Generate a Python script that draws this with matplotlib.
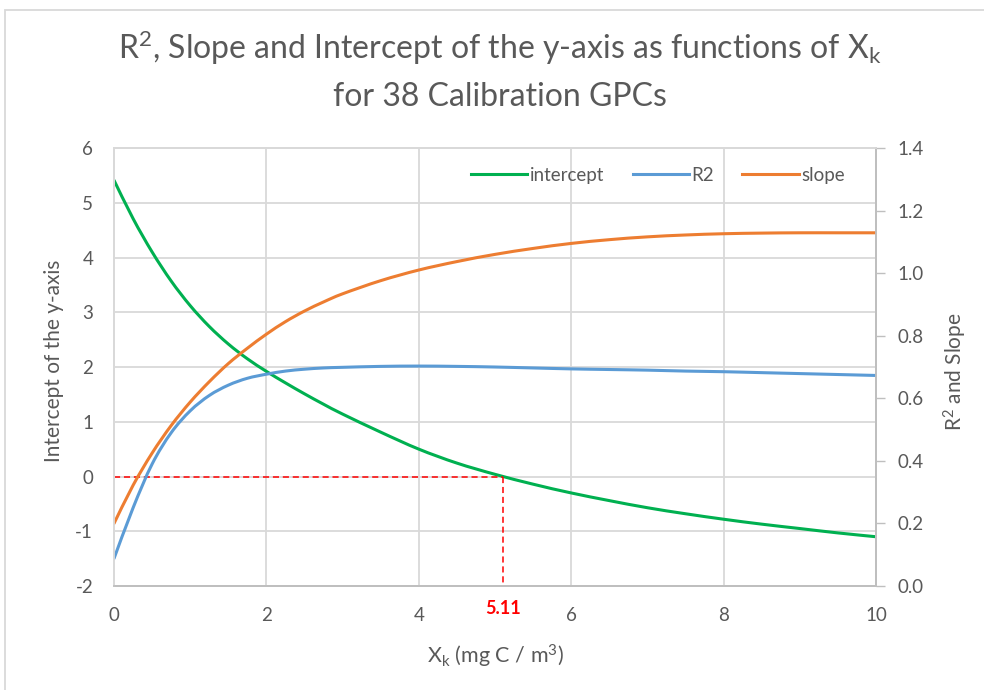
import matplotlib
matplotlib.use("Agg")
import matplotlib.pyplot as plt
from matplotlib.patches import Rectangle, PathPatch
from matplotlib.path import Path
from matplotlib.ticker import FormatStrFormatter

plt.rcParams['font.family'] = ['Lato', 'DejaVu Sans']
plt.rcParams['axes.unicode_minus'] = False

# Valeurs
xk = [0, 0.25, 0.5, 0.75, 1.0, 1.25, 1.5, 1.75, 2.0, 2.25, 2.5, 2.75, 3.0,
      3.5, 4.0, 4.5, 5.0, 5.5, 6.0, 6.5, 7.0, 7.5, 8.0, 8.5, 9.0, 9.5, 10.0]
intercept = [5.41, 4.71, 4.10, 3.57, 3.12, 2.74, 2.42, 2.15, 1.92, 1.71, 1.51, 1.32, 1.14,
             0.81, 0.50, 0.245, 0.04, -0.14, -0.30, -0.44, -0.57, -0.68, -0.78, -0.87, -0.95, -1.03, -1.10]
r2 = [0.088, 0.250, 0.390, 0.490, 0.560, 0.609, 0.642, 0.664, 0.677, 0.687, 0.693, 0.697, 0.699,
      0.702, 0.703, 0.702, 0.700, 0.697, 0.694, 0.692, 0.690, 0.687, 0.685, 0.682, 0.679, 0.676, 0.673]
slope = [0.200, 0.322, 0.425, 0.513, 0.588, 0.653, 0.711, 0.760, 0.805, 0.845, 0.879, 0.908, 0.934,
         0.976, 1.010, 1.037, 1.060, 1.079, 1.095, 1.107, 1.116, 1.122, 1.126, 1.128, 1.129, 1.129, 1.129]
x_zero = 5.11

green = '#00B050'
blue = '#5B9BD5'
orange = '#ED7D31'
grid = '#D9D9D9'
txt = '#595959'


def smooth_line(ax, xs, ys, color, label):
    # ligne lissée comme dans Excel (Bezier type Catmull-Rom passant par les points)
    pts = list(zip(xs, ys))
    verts = [pts[0]]
    codes = [Path.MOVETO]
    n = len(pts)
    for i in range(n - 1):
        p0 = pts[max(i - 1, 0)]
        p1 = pts[i]
        p2 = pts[i + 1]
        p3 = pts[min(i + 2, n - 1)]
        c1 = (p1[0] + (p2[0] - p0[0]) / 6, p1[1] + (p2[1] - p0[1]) / 6)
        c2 = (p2[0] - (p3[0] - p1[0]) / 6, p2[1] - (p3[1] - p1[1]) / 6)
        verts += [c1, c2, p2]
        codes += [Path.CURVE4] * 3
    ax.add_patch(PathPatch(Path(verts, codes), facecolor='none', edgecolor=color,
                           lw=2.2, capstyle='round', joinstyle='round'))
    h, = ax.plot([], [], color=color, lw=2.2, label=label)
    return h


fig = plt.figure(figsize=(9.84, 6.9), dpi=100)
ax = fig.add_axes([0.1159, 0.1507, 0.7743, 0.6348])
ax2 = ax.twinx()

# Courbes
l1 = smooth_line(ax, xk, intercept, green, 'intercept')
l2 = smooth_line(ax2, xk, r2, blue, 'R2')
l3 = smooth_line(ax2, xk, slope, orange, 'slope')

# Lignes pointillées rouges pour le zéro de l'intercept
ax.plot([0, x_zero], [0, 0], color='#FF0000', lw=1.1, ls=(0, (4, 2.5)))
ax.plot([x_zero, x_zero], [0, -2], color='#FF0000', lw=1.1, ls=(0, (4, 2.5)))
ax.annotate('5.11', xy=(x_zero, -2), xytext=(0, -16), textcoords='offset points',
            ha='center', va='center', color='#FF0000', fontsize=13, fontweight='bold')

# Axe gauche
ax.set_xlim(0, 10)
ax.set_ylim(-2, 6)
ax.set_xticks([0, 2, 4, 6, 8, 10])
ax.set_yticks(range(-2, 7))
ax.grid(True, color=grid, lw=1.3)
ax.set_axisbelow(True)
ax.tick_params(axis='both', length=0, labelsize=13.5, labelcolor=txt)
ax.tick_params(axis='x', pad=15)
ax.tick_params(axis='y', pad=15)

# Axe droit
ax2.set_ylim(0, 1.4)
ax2.set_yticks([0, 0.2, 0.4, 0.6, 0.8, 1.0, 1.2, 1.4])
ax2.yaxis.set_major_formatter(FormatStrFormatter('%.1f'))
ax2.tick_params(axis='y', length=6.5, width=1, color='#BFBFBF', labelsize=13.5,
                labelcolor=txt, pad=9)

for a in (ax, ax2):
    for s in a.spines.values():
        s.set_color(grid)
        s.set_linewidth(1.3)
    a.spines['bottom'].set_color('#BFBFBF')
    a.spines['right'].set_color('#BFBFBF')

ax.set_ylabel('Intercept of the y-axis', fontsize=15, color=txt)
ax.yaxis.set_label_coords(-0.066, 0.515)
ax2.set_ylabel(r'$\mathregular{R^2}$ and Slope', fontsize=15, color=txt)
ax2.yaxis.set_label_coords(1.087, 0.489)
ax.set_xlabel(r'$\mathregular{X_k}$ (mg C / m$\mathregular{^3}$)', fontsize=15.5, color=txt)
ax.xaxis.set_label_coords(0.5, -0.13)

ax.legend(handles=[l1, l2, l3], loc='center', bbox_to_anchor=(0.714, 0.938), ncol=3,
          frameon=False, fontsize=13.5, handlelength=3.0, handletextpad=0.15,
          columnspacing=1.5, labelcolor=txt)

# Titre
fig.text(0.508, 1 - 48 / 690, r'$\mathregular{R^2}$, Slope and Intercept of the y-axis as functions of $\mathregular{X_k}$',
         ha='center', va='center', fontsize=23, color=txt)
fig.text(0.508, 1 - 97 / 690, 'for 38 Calibration GPCs', ha='center', va='center',
         fontsize=23, color=txt)

# Bordure du graphique
fig.patches.append(Rectangle((0.005, -0.1), 1.2, 0.9855 + 0.1, transform=fig.transFigure,
                             fill=False, edgecolor=grid, lw=1.3))

fig.savefig('out.png', dpi=100)
